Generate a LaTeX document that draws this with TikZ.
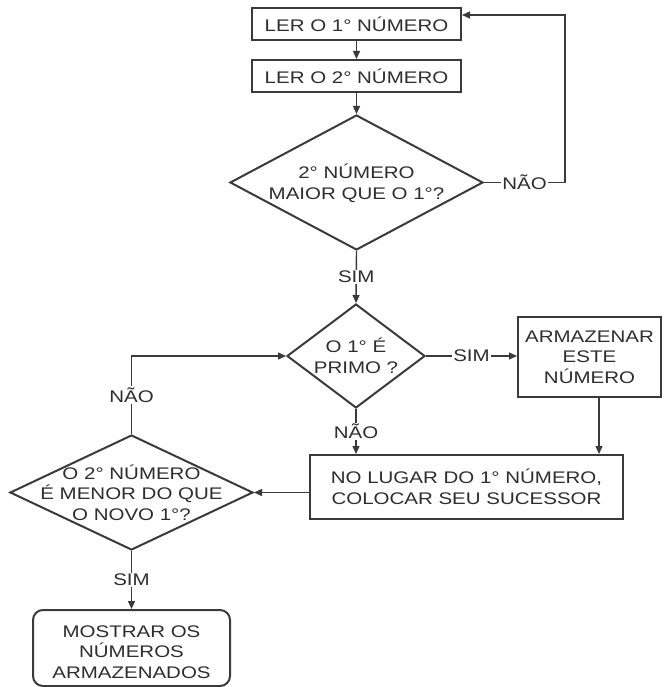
\documentclass[tikz,border=0pt]{standalone}
\usepackage{fontspec}
\usetikzlibrary{shapes.geometric,arrows.meta}
\newfontfamily\flowfont{Liberation Sans}[FakeStretch=1.22]
\definecolor{inkline}{HTML}{3A3A3A}
\definecolor{inktext}{HTML}{2E2E2E}
\begin{document}
\begin{tikzpicture}[x=1pt,y=-1pt,
  every node/.style={font=\flowfont\fontsize{16.8pt}{20.5pt}\selectfont, text=inktext},
  procbox/.style={draw=inkline, line width=2pt, rectangle, inner sep=0pt, align=center},
  endbox/.style={procbox, rounded corners=10pt},
  decision/.style={draw=inkline, line width=2pt, diamond, inner sep=0pt},
  conn/.style={draw=inkline, line width=1.4pt, -{Triangle[length=8pt,width=7pt]}},
  lbl/.style={fill=white, inner sep=1.5pt}
]
\useasboundingbox (0,0) rectangle (663,687);

% processing steps
\node[procbox, minimum width=209pt, minimum height=32pt] (b1) at (356.5,24) {LER O 1° NÚMERO};
\node[procbox, minimum width=209pt, minimum height=32pt] (b2) at (356.5,76) {LER O 2° NÚMERO};
\node[procbox, minimum width=143pt, minimum height=80pt] (b3) at (589.5,357) {ARMAZENAR\\ESTE\\NÚMERO};
\node[procbox, minimum width=313pt, minimum height=64pt] (b4) at (466.5,487) {NO LUGAR DO 1° NÚMERO,\\COLOCAR SEU SUCESSOR};
\node[endbox, minimum width=197pt, minimum height=76pt,
  label={[align=center,yshift=-4pt]center:MOSTRAR OS\\NÚMEROS\\ARMAZENADOS}] (b5) at (131.5,648) {};

% decisions
\node[decision, minimum width=253pt, minimum height=135pt,
  label={[align=center,yshift=-1pt]center:2° NÚMERO\\MAIOR QUE O 1°?}] (d1) at (356.5,182.5) {};
\node[decision, minimum width=138pt, minimum height=104pt,
  label={[align=center]center:O 1° É\\PRIMO ?}] (d2) at (356,356) {};
\node[decision, minimum width=243pt, minimum height=115pt,
  label={[align=center]center:O 2° NÚMERO\\É MENOR DO QUE\\O NOVO 1°?}] (d3) at (131.5,492.5) {};

% loop-back corner
\coordinate (loopx) at (565,182.5);

% connectors
\draw[conn] (b1.south) -- (b2.north);
\draw[conn] (b2.south) -- (d1.north);
\draw[conn] (d1.east) -- node[lbl]{NÃO} (loopx) |- ([yshift=9pt]b1.east);
\draw[conn] (d1.south) -- node[lbl]{SIM} (d2.north);
\draw[conn] (d2.east) -- node[lbl]{SIM} (d2.east -| b3.west);
\draw[conn] (d2.south) -- node[lbl]{NÃO} (d2.south |- b4.north);
\draw[conn] ([xshift=9.5pt]b3.south) -- ([xshift=9.5pt]b3.south |- b4.north);
\draw[conn] (b4.west |- d3.east) -- (d3.east);
\draw[conn] (d3.north) -- node[lbl]{NÃO} (d3.north |- d2.west) -- (d2.west);
\draw[conn] (d3.south) -- node[lbl]{SIM} (b5.north);
\end{tikzpicture}
\end{document}
